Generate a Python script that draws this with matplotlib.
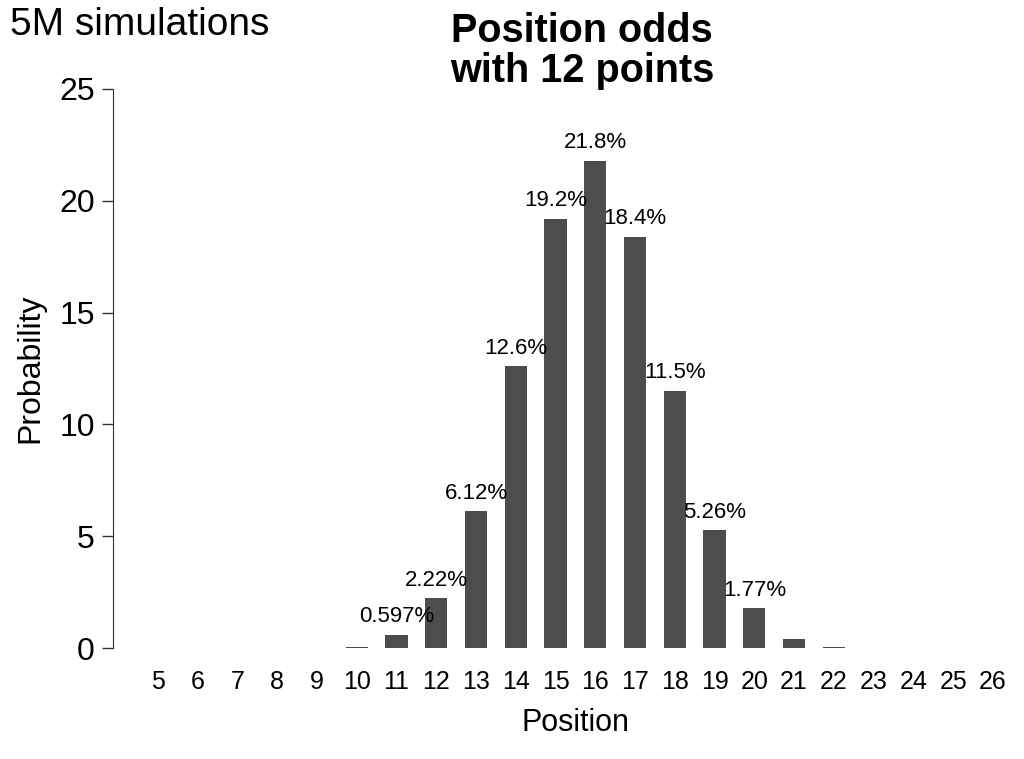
import matplotlib
matplotlib.use("Agg")
import matplotlib.pyplot as plt

plt.rcParams['font.family'] = ['Liberation Sans', 'DejaVu Sans']

positions = list(range(5, 27))
probs = [0, 0, 0, 0, 0, 0.04, 0.597, 2.22, 6.12, 12.6, 19.2, 21.8,
         18.4, 11.5, 5.26, 1.77, 0.42, 0.03, 0, 0, 0, 0]

fig = plt.figure(figsize=(10.24, 7.59), dpi=100)
ax = fig.add_axes([113 / 1024, 111 / 759, 897 / 1024, 559 / 759])

ax.bar(positions, probs, width=0.56, color='#4d4d4d')
for p, v in zip(positions, probs):
    if v >= 0.5:
        ax.annotate('%.3g%%' % v, (p, v), xytext=(0, 13),
                    textcoords='offset points', ha='center', va='center',
                    fontsize=16)

ax.set_xlim(3.87, 26.43)
ax.set_ylim(0, 25)
ax.set_yticks([0, 5, 10, 15, 20, 25])
ax.set_xticks(positions)
ax.set_xticklabels([str(p) for p in positions])

for s in ['top', 'right', 'bottom']:
    ax.spines[s].set_visible(False)
ax.spines['left'].set_color('#333333')
ax.tick_params(axis='y', length=8, width=1, color='#333333', pad=5, labelsize=23)
ax.tick_params(axis='x', length=0, pad=16, labelsize=18)

ax.set_ylabel('Probability', fontsize=23, labelpad=10)
ax.set_xlabel('Position', fontsize=22, va='center')
ax.xaxis.set_label_coords((576 - 113) / 897, -(723 - 648) / 559)

fig.text(582 / 1024, 1 - 51 / 759, 'Position odds\nwith 12 points', ha='center',
         va='center', fontsize=28.5, fontweight='bold', linespacing=1.05)
fig.text(10 / 1024, 1 - 25 / 759, '5M simulations', ha='left', va='center',
         fontsize=28)

fig.savefig('out.png', dpi=100)
